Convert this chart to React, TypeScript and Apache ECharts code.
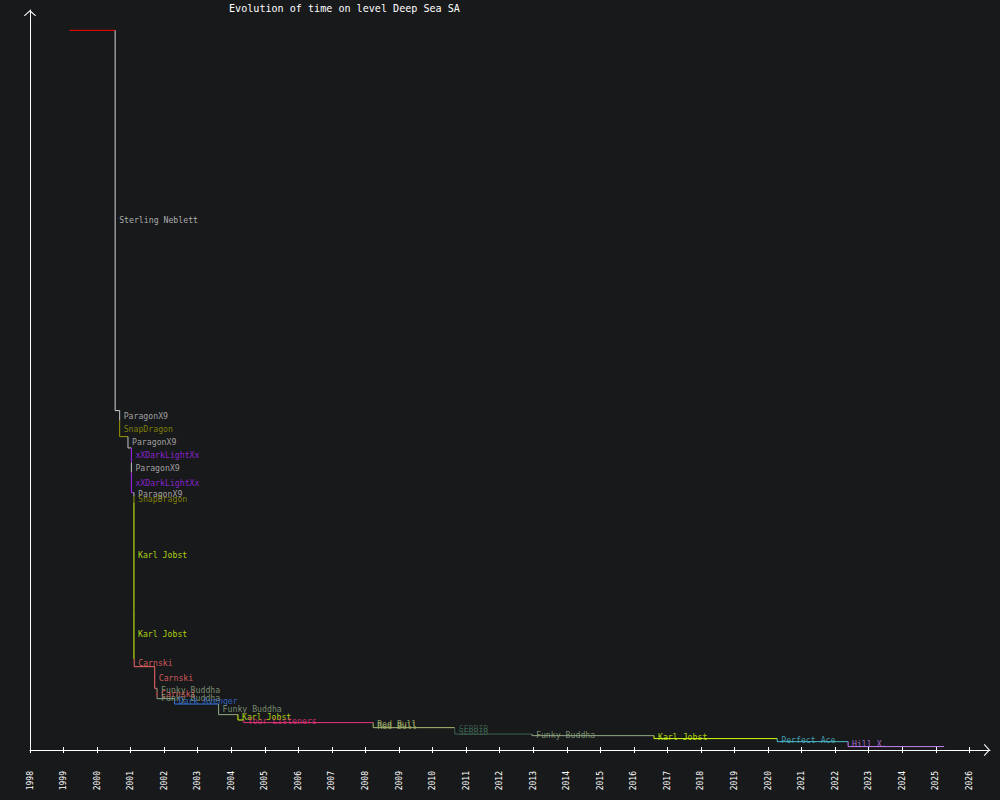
import React, { useEffect, useRef } from "react";
import * as echarts from "echarts";

// ---- data ----
const TITLE = "Evolution of time on level Deep Sea SA";
const X_MIN = "1998-01-01";
const X_MAX = "2026-08-14";
const END_DATE = "2025-04-02";
const YEARS = [
  1998, 1999, 2000, 2001, 2002, 2003, 2004, 2005, 2006, 2007, 2008, 2009, 2010, 2011,
  2012, 2013, 2014, 2015, 2016, 2017, 2018, 2019, 2020, 2021, 2022, 2023, 2024, 2025, 2026,
];
const PLAYERS = [
  "First",
  "Sterling Neblett",
  "ParagonX9",
  "SnapDragon",
  "ParagonX9",
  "xXDarkLightXx",
  "ParagonX9",
  "xXDarkLightXx",
  "ParagonX9",
  "SnapDragon",
  "Karl Jobst",
  "Karl Jobst",
  "Carnski",
  "Carnski",
  "Funky Buddha",
  "Carnski",
  "Funky Buddha",
  "Dark Avenger",
  "Funky Buddha",
  "Karl Jobst",
  "Your Listeners",
  "Red Bull",
  "Red Bull",
  "SEBBIB",
  "SEBBIB",
  "Funky Buddha",
  "Karl Jobst",
  "Perfect Ace",
  "Hill X.",
];
const DATES = [
  "1999-03-08",
  "2000-07-16",
  "2000-09-03",
  "2000-09-03",
  "2000-12-03",
  "2001-01-09",
  "2001-01-09",
  "2001-01-09",
  "2001-02-06",
  "2001-02-06",
  "2001-02-06",
  "2001-02-06",
  "2001-02-09",
  "2001-09-20",
  "2001-10-15",
  "2001-10-15",
  "2001-10-15",
  "2002-04-24",
  "2003-08-16",
  "2004-03-14",
  "2004-05-16",
  "2008-03-25",
  "2008-03-25",
  "2010-08-30",
  "2010-08-30",
  "2012-12-19",
  "2016-08-08",
  "2020-04-10",
  "2022-05-22",
];
const TIMES = [
  972.5, 458.6, 445.1, 423.5, 408.2, 388.4, 374.9, 347.9, 342.9, 334.4, 191.3, 123.1,
  112.6, 83.3, 79.5, 71.4, 69.4, 62.1, 47.8, 40.5, 37.0, 33.8, 30.2, 26.6, 21.6, 19.4,
  15.4, 11.3, 4.6,
];

// ---- styles ----
const PLAYER_COLORS: Record<string, string> = {
  First: "#ff0000",
  "Sterling Neblett": "#d4d4d4",
  ParagonX9: "#c4c4c4",
  SnapDragon: "#9a9a00",
  xXDarkLightXx: "#a826f8",
  "Karl Jobst": "#d4ff10",
  Carnski: "#f86a6a",
  "Funky Buddha": "#92aa86",
  "Dark Avenger": "#3478e0",
  "Your Listeners": "#e83480",
  "Red Bull": "#a8bc70",
  SEBBIB: "#3c6450",
  "Perfect Ace": "#4cbccc",
  "Hill X.": "#cc80f6",
};
const BG = "#18191b";
const FONT = "DejaVu Sans Mono";
const ARROW = "path://M6,0L12,5.4L11.3,6.2L6,1.4L0.7,6.2L0,5.4Z";

// date string -> decimal year
const yr = (s: string) => {
  const [y, m, d] = s.split("-").map(Number);
  const start = Date.UTC(y, 0, 1);
  const end = Date.UTC(y + 1, 0, 1);
  return y + (Date.UTC(y, m - 1, d) - start) / (end - start);
};

export default function App() {
  const ref = useRef<HTMLDivElement>(null);

  useEffect(() => {
    if (!ref.current) return;
    const chart = echarts.init(ref.current, null, { renderer: "svg" });

    const lineSeries: any[] = PLAYERS.map((p, i) => {
      const d = yr(DATES[i]);
      const next = i + 1 < DATES.length ? yr(DATES[i + 1]) : yr(END_DATE);
      const pts: any[] = [];
      if (i > 0) pts.push([d, TIMES[i - 1]]);
      pts.push([d, TIMES[i]]);
      pts.push([next, TIMES[i]]);
      return {
        type: "line",
        data: pts,
        showSymbol: false,
        symbol: "none",
        silent: true,
        lineStyle: { color: PLAYER_COLORS[p], width: 1 },
        itemStyle: { color: PLAYER_COLORS[p] },
      };
    });

    const labelData = PLAYERS.map((p, i) => {
      if (i === 0) return null;
      return {
        name: p,
        value: [yr(DATES[i]), (TIMES[i - 1] + TIMES[i]) / 2],
        label: { color: PLAYER_COLORS[p] },
      };
    }).filter(Boolean);

    const axisLineStyle = { color: "#ffffff", width: 1 };

    chart.setOption({
      animation: false,
      backgroundColor: BG,
      title: {
        text: TITLE,
        left: 229,
        top: 3,
        padding: 0,
        textStyle: { color: "#ffffff", fontSize: 10.1, fontFamily: FONT, fontWeight: "normal" },
      },
      grid: { left: 30, right: 10, top: 10, bottom: 50 },
      xAxis: [
        {
          type: "value",
          position: "bottom",
          min: yr(X_MIN),
          max: yr(X_MAX),
          axisLine: {
            show: true,
            onZero: false,
            lineStyle: axisLineStyle,
            symbol: ["none", ARROW],
            symbolSize: [12, 6.2],
            symbolOffset: [0, -3.1],
          },
          axisTick: { show: true, length: 3, customValues: YEARS, lineStyle: axisLineStyle },
          axisLabel: {
            customValues: YEARS,
            rotate: 90,
            margin: 21,
            color: "#ffffff",
            fontSize: 8,
            fontFamily: FONT,
            formatter: (v: number) => String(Math.round(v)),
          },
          splitLine: { show: false },
        },
        {
          type: "value",
          position: "bottom",
          min: yr(X_MIN),
          max: yr(X_MAX),
          axisLine: { show: false, onZero: false },
          axisTick: {
            show: true,
            inside: true,
            length: 3,
            customValues: YEARS,
            lineStyle: axisLineStyle,
          },
          axisLabel: { show: false },
          splitLine: { show: false },
        },
      ],
      yAxis: {
        type: "value",
        min: 0,
        max: 1000,
        axisLine: {
          show: true,
          onZero: false,
          lineStyle: axisLineStyle,
          symbol: ["none", ARROW],
          symbolSize: [12, 6.2],
          symbolOffset: [0, -3.1],
        },
        axisTick: { show: false },
        axisLabel: { show: false },
        splitLine: { show: false },
      },
      series: [
        ...lineSeries,
        {
          type: "scatter",
          data: labelData,
          symbolSize: 0,
          silent: true,
          z: 5,
          label: {
            show: true,
            position: "right",
            distance: 4,
            fontSize: 8.2,
            fontFamily: FONT,
            formatter: (p: any) => p.name,
          },
        },
      ],
    });

    return () => chart.dispose();
  }, []);

  return (
    <div
      ref={ref}
      style={{ position: "fixed", left: 0, top: 0, width: 1000, height: 800, background: BG }}
    />
  );
}
